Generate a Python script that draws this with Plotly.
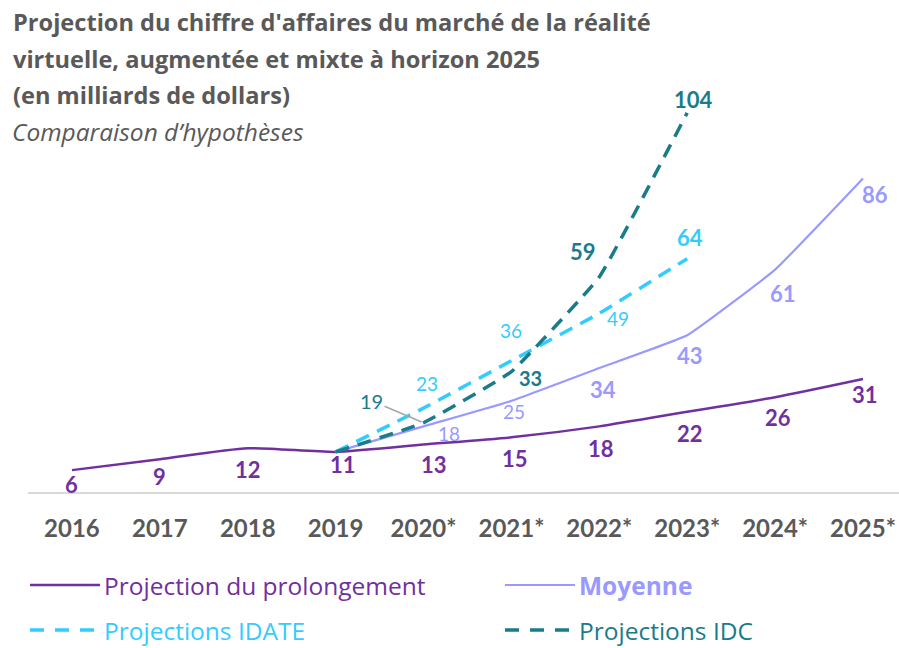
import plotly.graph_objects as go

# ---- data ----
years = ["2016", "2017", "2018", "2019", "2020*", "2021*", "2022*", "2023*", "2024*", "2025*"]
prolongement = [6, 9, 12, 11, 13, 15, 18, 22, 26, 31]
moyenne = [None, None, None, 11, 18, 25, 34, 43, 61, 86]
idate = [None, None, None, 11, 23, 36, 49, 64, None, None]
idc = [None, None, None, 11, 19, 33, 59, 104, None, None]

title_lines = [
    "Projection du chiffre d'affaires du marché de la réalité",
    "virtuelle, augmentée et mixte à horizon 2025",
    "(en milliards de dollars)",
]
subtitle = "Comparaison d’hypothèses"
names = ["Projection du prolongement", "Moyenne", "Projections IDATE", "Projections IDC"]

# ---- styles ----
C_PROL = "#7030A0"
C_MOY = "#9999FF"
C_IDATE = "#33CCFF"
C_IDC = "#1A7B8A"
C_TXT = "#595959"
FONT = "Lato"
TFONT = "Open Sans"

W, H = 899, 648
ML, MR, MT, MB = 28, 0, 91, 156
PW, PH = W - ML - MR, H - MT - MB


def px2x(px):
    return (px - ML) / PW


def px2y(py):
    return (H - MB - py) / PH


fig = go.Figure()
fig.add_trace(go.Scatter(x=years, y=prolongement, mode="lines", name=names[0],
                         line=dict(color=C_PROL, width=2.5, shape="spline", smoothing=0.6),
                         showlegend=False))
fig.add_trace(go.Scatter(x=years, y=moyenne, mode="lines", name=names[1],
                         line=dict(color=C_MOY, width=2.2, shape="spline", smoothing=0.3),
                         showlegend=False))
fig.add_trace(go.Scatter(x=years, y=idate, mode="lines", name=names[2],
                         line=dict(color=C_IDATE, width=3.5, dash="14px,9px", shape="spline", smoothing=0.3),
                         showlegend=False))
fig.add_trace(go.Scatter(x=years, y=idc, mode="lines", name=names[3],
                         line=dict(color=C_IDC, width=3.5, dash="14px,9px", shape="spline", smoothing=0.3),
                         showlegend=False))

# ---- data labels (offsets in px: dx right, dy down) ----
label_styles = [
    (prolongement, C_PROL,
     [(0, 14), (0, 17), (0, 21), (7, 13), (10, 20), (4, 21), (2, 22), (3, 22), (3, 20), (2, 16)],
     [22] * 10, [True] * 10),
    (moyenne, C_MOY,
     [None, None, None, None, (25, 7), (3, 11), (4, 21), (3, 20), (8, 24), (12, 16)],
     [0, 0, 0, 0, 19, 19, 22, 22, 22, 22], [0, 0, 0, 0, False, False, True, True, True, True]),
    (idate, C_IDATE,
     [None, None, None, None, (3, -25), (0, -30), (19, 5), (3, -21), None, None],
     [0, 0, 0, 0, 19, 19, 19, 22, 0, 0], [0, 0, 0, 0, False, False, False, True, 0, 0]),
    (idc, C_IDC,
     [None, None, None, None, None, (19, 6), (-16, -25), (6, -13), None, None],
     [0, 0, 0, 0, 0, 20, 22, 22, 0, 0], [0, 0, 0, 0, 0, True, True, True, 0, 0]),
]
for vals, col, offs, sizes, bolds in label_styles:
    for i, v in enumerate(vals):
        if v is None or offs[i] is None:
            continue
        dx, dy = offs[i]
        txt = f"<b>{v}</b>" if bolds[i] else str(v)
        # category index used as x position (numeric-looking names would be misread)
        fig.add_annotation(x=i, y=v, xref="x", yref="y", text=txt, showarrow=False,
                           xshift=dx, yshift=-dy,
                           font=dict(family=FONT, size=sizes[i], color=col))

# IDC 2020 label with leader line
fig.add_annotation(x=4, y=idc[4], xref="x", yref="y", text=str(idc[4]),
                   showarrow=True, arrowhead=0, arrowwidth=1.5, arrowcolor="#A6A6A6",
                   ax=-52, ay=-22, standoff=2,
                   font=dict(family=FONT, size=20, color=C_IDC))

# ---- title ----
for i, line in enumerate(title_lines):
    fig.add_annotation(x=px2x(11), y=px2y(22 + 36.5 * i), xref="paper", yref="paper",
                       xanchor="left", yanchor="middle", showarrow=False,
                       text=f"<b>{line}</b>", font=dict(family=TFONT, size=23.6, color=C_TXT))
fig.add_annotation(x=px2x(10), y=px2y(131), xref="paper", yref="paper",
                   xanchor="left", yanchor="middle", showarrow=False,
                   text=f"<i>{subtitle}</i>", font=dict(family=TFONT, size=24.5, color=C_TXT))

# ---- legend (drawn manually) ----
legend_items = [
    (names[0], C_PROL, "solid", 2.5, 30, 585, False),
    (names[1], C_MOY, "solid", 2.2, 505, 585, True),
    (names[2], C_IDATE, "14px,11px", 3.5, 30, 630, False),
    (names[3], C_IDC, "14px,11px", 3.5, 505, 630, False),
]
for name, col, dash, lw, x0, yc, bold in legend_items:
    fig.add_shape(type="line", xref="paper", yref="paper",
                  x0=px2x(x0), x1=px2x(x0 + 70), y0=px2y(yc), y1=px2y(yc),
                  line=dict(color=col, width=lw, dash=dash))
    fig.add_annotation(x=px2x(x0 + 72), y=px2y(yc), xref="paper", yref="paper",
                       xanchor="left", yanchor="middle", showarrow=False,
                       text=f"<b>{name}</b>" if bold else name,
                       font=dict(family=TFONT, size=24.5, color=col))

fig.update_layout(
    width=W, height=H,
    margin=dict(l=ML, r=MR, t=MT, b=MB, pad=0),
    paper_bgcolor="white", plot_bgcolor="white",
    showlegend=False,
    xaxis=dict(type="category", range=[-0.5, 9.41], showgrid=False, zeroline=False,
               showline=True, linecolor="#D9D9D9", linewidth=2,
               ticks="", ticklabelstandoff=14,
               tickfont=dict(family=FONT, size=24, color=C_TXT, weight="bold")),
    yaxis=dict(range=[0, 110], visible=False, showgrid=False, zeroline=False, fixedrange=True),
)

fig.write_html("out.html", config={"displayModeBar": False},
               post_script="document.body.style.margin='0';document.body.style.overflow='hidden';")
